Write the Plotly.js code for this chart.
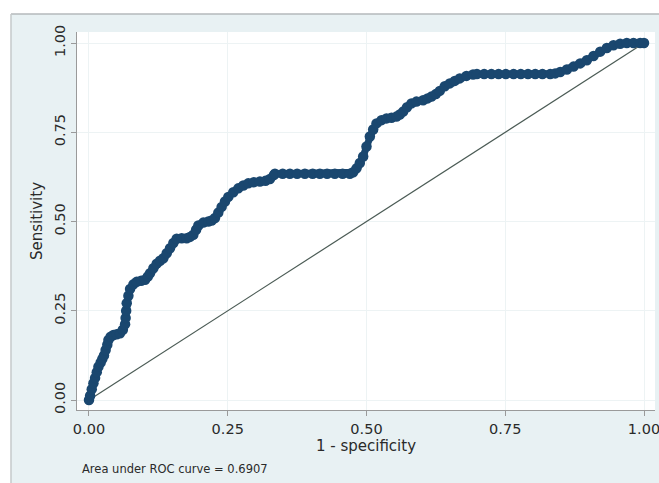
<!DOCTYPE html>
<html>
<head>
<meta charset="utf-8">
<script src="https://cdn.plot.ly/plotly-3.0.1.min.js"></script>
<style>
html,body{margin:0;padding:0;background:#ffffff;}
#chart{width:659px;height:483px;}
</style>
</head>
<body>
<div id="chart"></div>
<script>
// ROC curve points: 1 - specificity (x) and sensitivity (y)
var fpr = [0,0.002,0.005,0.008,0.011,0.014,0.017,0.021,0.024,0.027,0.030,0.033,0.035,0.039,0.044,0.050,0.056,0.061,0.065,0.066,0.067,0.068,0.071,0.074,0.080,0.086,0.094,0.101,0.106,0.110,0.116,0.122,0.128,0.134,0.140,0.146,0.152,0.158,0.167,0.176,0.182,0.188,0.193,0.197,0.206,0.215,0.221,0.227,0.233,0.239,0.245,0.251,0.260,0.269,0.278,0.287,0.297,0.308,0.318,0.326,0.333,
  0.335,0.349,0.362,0.375,0.389,0.403,0.416,0.429,0.443,0.457,0.470,
  0.476,0.482,0.488,0.494,0.500,0.506,0.512,0.518,0.527,0.536,0.545,0.554,0.560,0.566,0.573,0.581,0.590,0.602,0.610,0.617,0.625,0.632,0.641,0.650,0.659,0.668,0.680,0.692,
  0.699,0.712,0.725,0.738,0.751,0.765,0.778,0.791,0.804,0.817,0.831,
  0.840,0.849,0.861,0.873,0.885,0.897,0.909,0.921,0.933,0.945,0.957,0.969,0.981,0.993,1];
var tpr = [0,0.012,0.030,0.047,0.062,0.078,0.093,0.105,0.115,0.125,0.140,0.155,0.168,0.177,0.182,0.184,0.187,0.197,0.212,0.230,0.250,0.271,0.292,0.311,0.324,0.331,0.334,0.337,0.346,0.355,0.369,0.382,0.390,0.397,0.411,0.425,0.440,0.452,0.453,0.453,0.457,0.463,0.477,0.489,0.497,0.500,0.503,0.510,0.525,0.541,0.556,0.569,0.582,0.593,0.601,0.607,0.610,0.612,0.614,0.619,0.630,
  0.634,0.634,0.634,0.634,0.634,0.634,0.634,0.634,0.634,0.634,0.634,
  0.638,0.649,0.664,0.682,0.710,0.738,0.758,0.775,0.784,0.789,0.791,0.794,0.800,0.808,0.820,0.831,0.836,0.840,0.845,0.850,0.857,0.866,0.879,0.887,0.894,0.901,0.908,0.912,
  0.913,0.913,0.913,0.913,0.913,0.913,0.913,0.913,0.913,0.913,0.913,
  0.915,0.919,0.926,0.934,0.943,0.952,0.964,0.976,0.986,0.994,0.998,1,1,1,1];
var refX = [0, 1];
var refY = [0, 1];
var tickVals = [0, 0.25, 0.5, 0.75, 1];
var tickText = ["0.00", "0.25", "0.50", "0.75", "1.00"];
var aucText = "Area under ROC curve = 0.6907";

var navy = "#1a476f";
var fontFam = "DejaVu Sans, Liberation Sans, Arial, sans-serif";
var traces = [
  {x: refX, y: refY, type: "scatter", mode: "lines",
   line: {color: "#4b5b55", width: 1.2}, hoverinfo: "skip"},
  {x: fpr, y: tpr, type: "scatter", mode: "lines+markers",
   line: {color: navy, width: 7},
   marker: {color: navy, size: 10.5}}
];

var axisCommon = {
  showline: true, linecolor: "#9a9a9a", linewidth: 1.2,
  ticks: "outside", ticklen: 5, tickcolor: "#9a9a9a", tickwidth: 1,
  tickvals: tickVals, ticktext: tickText,
  ticklabeloverflow: "allow",
  tickfont: {family: fontFam, size: 14.5, color: "#2a2a2a"},
  showgrid: true, gridcolor: "#edf3f4", gridwidth: 1,
  zeroline: false, mirror: false
};

var layout = {
  width: 659, height: 483,
  margin: {l: 77, r: 4, t: 32, b: 73, pad: 0},
  paper_bgcolor: "#e8f1f3",
  plot_bgcolor: "#ffffff",
  showlegend: false,
  xaxis: Object.assign({}, axisCommon, {
    range: [-0.0216, 1.0198],
    title: {text: "1 - specificity", standoff: 1,
            font: {family: fontFam, size: 15, color: "#2a2a2a"}}
  }),
  yaxis: Object.assign({}, axisCommon, {
    range: [-0.028, 1.031],
    tickangle: -90,
    title: {text: "Sensitivity", standoff: 5,
            font: {family: fontFam, size: 15, color: "#2a2a2a"}}
  }),
  shapes: [
    {type: "rect", xref: "paper", yref: "paper", x0: -0.2, x1: 1.2, y0: 1.0476, y1: 1.1,
     fillcolor: "#ffffff", line: {width: 0}, layer: "below"},
    {type: "rect", xref: "paper", yref: "paper", x0: -0.2, x1: -0.1142, y0: -0.3, y1: 1.1,
     fillcolor: "#ffffff", line: {width: 0}, layer: "below"},
    {type: "line", xref: "paper", yref: "paper", x0: -0.1142, x1: 1.2, y0: 1.0476, y1: 1.0476,
     line: {color: "#b5b9bb", width: 1.5}},
    {type: "line", xref: "paper", yref: "paper", x0: -0.1142, x1: -0.1142, y0: -0.3, y1: 1.0476,
     line: {color: "#c5c9cb", width: 1.5}}
  ],
  annotations: [
    {text: aucText, xref: "paper", yref: "paper", x: 0.1696, y: -0.156,
     xanchor: "center", yanchor: "middle", showarrow: false,
     font: {family: fontFam, size: 11.5, color: "#2a2a2a"}}
  ]
};

Plotly.newPlot("chart", traces, layout, {displayModeBar: false, staticPlot: true});
</script>
</body>
</html>
